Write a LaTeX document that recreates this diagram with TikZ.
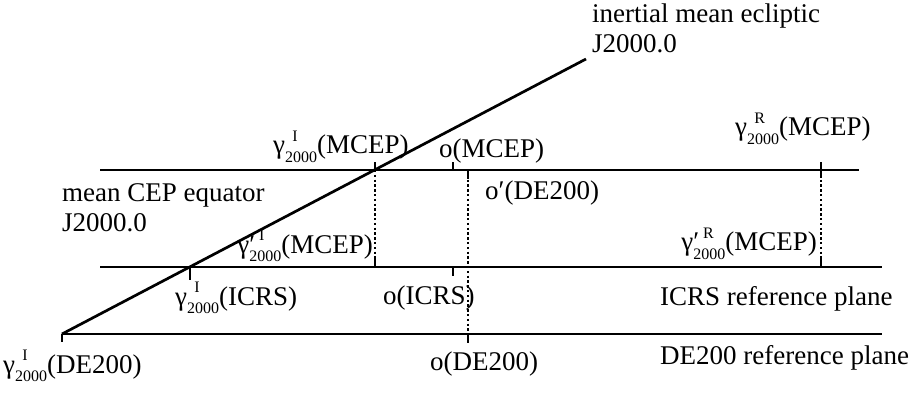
\documentclass[tikz,border=0pt]{standalone}
\usepackage{fontspec}
\setmainfont{Liberation Serif}
\newcommand{\subsz}{\fontsize{16}{16}\selectfont}
\newcommand{\gl}[2]{γ\rlap{\raisebox{0.48em}{\subsz\hspace{0.45em}#1}}\raisebox{-0.32em}{\subsz 2000}(#2)}
\newcommand{\glp}[2]{γ\rlap{′\raisebox{0.48em}{\subsz\hspace{0.25em}#1}}\raisebox{-0.32em}{\subsz 2000}(#2)}
\begin{document}
\begin{tikzpicture}[x=1pt,y=-1pt,
  plane/.style={line width=2.7pt},
  tick/.style={line width=2pt},
  proj/.style={line width=1.2pt,dash pattern=on 2.4pt off 2.4pt},
  lbl/.style={inner sep=0pt,font=\fontsize{27}{30}\selectfont}]
\useasboundingbox (0,0) rectangle (910,398);
% coordinates
\coordinate (tL) at (100,170);   \coordinate (tR) at (859,170);
\coordinate (mL) at (100,267);   \coordinate (mR) at (882,267);
\coordinate (bL) at (62,334);    \coordinate (bR) at (882,334);
\coordinate (eE) at (586,59);
\coordinate (gT) at (375,170);   \coordinate (gM) at (375,267);
\coordinate (gI) at (189.9,267);
\coordinate (oT) at (453,170);   \coordinate (oM) at (453,267);
\coordinate (dT) at (468,170);   \coordinate (dB) at (468,334);
\coordinate (rT) at (821,170);   \coordinate (rM) at (821,267);
% planes
\draw[plane] (tL) -- (tR);
\draw[plane] (mL) -- (mR);
\draw[plane] (bL) -- (bR);
\draw[plane] (bL) -- (eE);
% projections
\draw[proj] (gT) -- (gM);
\draw[proj] (dT) -- (dB);
\draw[proj] (rT) -- (rM);
% ticks
\draw[tick] (bL) -- ++(0,8);
\draw[tick] (gI) -- ++(0,13);
\draw[tick] (gT) -- ++(0,-8);
\draw[tick] (gM) -- ++(0,-9);
\draw[tick] (oT) -- ++(0,-8);
\draw[tick] (oM) -- ++(0,9);
\draw[tick] (dT) -- ++(0,9);
\draw[tick] (dB) -- ++(0,9);
\draw[tick] (rT) -- ++(0,-8);
\draw[tick] (rT) -- ++(0,8);
\draw[tick] (rM) -- ++(0,-9);
% labels
\node[lbl,anchor=base west] (ecl1) at (592,23) {inertial mean ecliptic};
\node[lbl,anchor=base west] (ecl2) at (592,53) {J2000.0};
\node[lbl,anchor=base west] (equ1) at (62,202) {mean CEP equator};
\node[lbl,anchor=base west] (equ2) at (62,232) {J2000.0};
\node[lbl,anchor=base west] (lgIM) at (273,154) {\gl{I}{MCEP}};
\node[lbl,anchor=base west] (loM) at (439,158) {o(MCEP)};
\node[lbl,anchor=base west] (lgRM) at (735,136) {\gl{R}{MCEP}};
\node[lbl,anchor=base west] (lodp) at (485,200) {o′(DE200)};
\node[lbl,anchor=base east] (lgpI) at (373,253) {\glp{I}{MCEP}};
\node[lbl,anchor=base east] (lgpR) at (817,251) {\glp{R}{MCEP}};
\node[lbl,anchor=base west] (lgIC) at (175,305) {\gl{I}{ICRS}};
\node[lbl,anchor=base west] (loIC) at (383,304) {o(ICRS)};
\node[lbl,anchor=base west] (lICp) at (660,305) {ICRS reference plane};
\node[lbl,anchor=base west] (lgID) at (3,373) {\gl{I}{DE200}};
\node[lbl,anchor=base west] (loD) at (430,370) {o(DE200)};
\node[lbl,anchor=base west] (lDEp) at (660,364) {DE200 reference plane};
\end{tikzpicture}
\end{document}
